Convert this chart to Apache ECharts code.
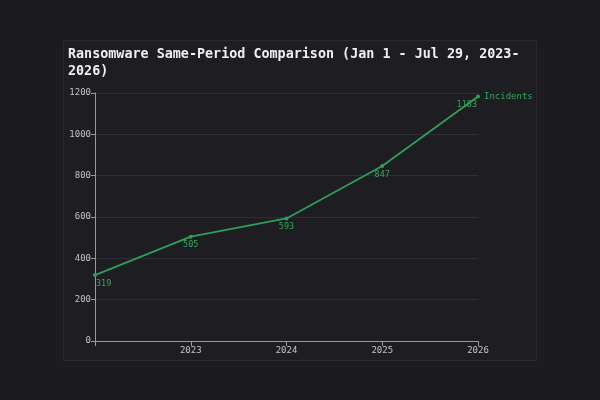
<!DOCTYPE html>
<html><head><meta charset="utf-8">
<script src="https://cdn.jsdelivr.net/npm/echarts@6/dist/echarts.min.js"></script>
<style>html,body{margin:0;padding:0;background:#1c1b1f;}#c{width:600px;height:400px;}</style>
</head><body><div id="c"></div>
<script>
const years = [2022, 2023, 2024, 2025, 2026];
const incidents = [319, 505, 593, 847, 1183];
const seriesName = 'Incidents';
const titleText = 'Ransomware Same-Period Comparison (Jan 1 - Jul 29, 2023-\n2026)';

const mono = '"DejaVu Sans Mono", "Liberation Mono", monospace';
const GL = 95, GR = 122;
const chart = echarts.init(document.getElementById('c'));
chart.setOption({
  backgroundColor: '#1c1b1f',
  animation: false,
  graphic: [{
    type: 'rect', left: 63, top: 40, z: -10,
    shape: { width: 473, height: 320 },
    style: { fill: '#1e1d21', stroke: '#2a292e', lineWidth: 1 }
  }],
  title: {
    text: titleText, left: 63, top: 41,
    textStyle: { color: '#f0f0f0', fontFamily: mono, fontWeight: 'bold', fontSize: 13.4, lineHeight: 17 }
  },
  grid: { left: GL, right: GR, top: 93, bottom: 59 },
  xAxis: {
    type: 'value', min: 2022, max: 2026, interval: 1,
    axisLine: { lineStyle: { color: '#9a9a9d' } },
    axisTick: { show: true, lineStyle: { color: '#9a9a9d' } },
    splitLine: { show: false },
    axisLabel: {
      color: '#c4c4c6', fontFamily: mono, fontSize: 9, margin: 5,
      formatter: v => v === 2022 ? '' : String(v)
    }
  },
  yAxis: {
    type: 'value', min: 0, max: 1200, interval: 200,
    axisLine: { show: true, lineStyle: { color: '#9a9a9d' } },
    axisTick: { show: true, length: 4, lineStyle: { color: '#9a9a9d' } },
    splitLine: { lineStyle: { color: '#2f2e33' } },
    axisLabel: { color: '#c4c4c6', fontFamily: mono, fontSize: 9, margin: 4, formatter: v => String(v) }
  },
  series: [{
    name: seriesName, type: 'line',
    data: years.map((y, i) => [y, incidents[i]]),
    symbol: 'circle', symbolSize: 4,
    lineStyle: { color: '#2f9e5b', width: 1.8 },
    itemStyle: { color: '#2f9e5b' },
    label: {
      show: true, position: 'bottom', distance: 2,
      color: '#35a562', fontFamily: mono, fontSize: 8.5,
      formatter: p => p.value[1]
    },
    labelLayout: p => {
      const r = p.labelRect;
      if (!r || p.text === seriesName) return {};
      if (r.x < GL) return { dx: GL - r.x + 1 };
      const right = 600 - GR;
      if (r.x + r.width > right) return { dx: right - (r.x + r.width) - 1 };
      return {};
    },
    endLabel: {
      show: true, formatter: seriesName, color: '#35a562',
      fontFamily: mono, fontSize: 9, distance: 6
    }
  }]
});
</script></body></html>
